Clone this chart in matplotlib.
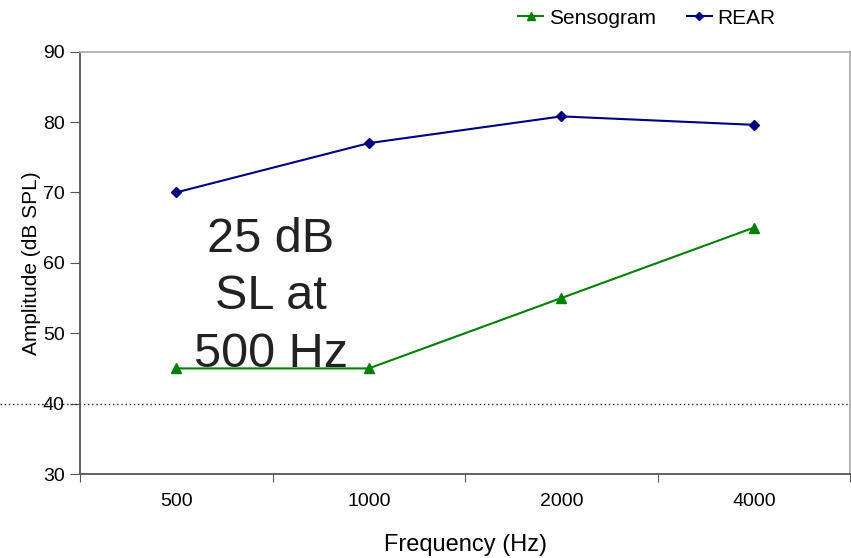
import matplotlib
matplotlib.use("Agg")
import matplotlib.pyplot as plt
import matplotlib.transforms as mtransforms

plt.rcParams['font.family'] = ['Liberation Sans', 'DejaVu Sans']

freqs = ['500', '1000', '2000', '4000']
sensogram = [45, 45, 55, 65]
rear = [70, 77, 80.8, 79.6]

fig = plt.figure(figsize=(8.51, 5.58), dpi=100)
ax = fig.add_axes([0.094, 0.1505, 0.905, 0.757])

xpos = [i + 0.5 for i in range(len(freqs))]
ax.plot(xpos, sensogram, color='#008000', marker='^', markersize=7, lw=1.5, label='Sensogram')
ax.plot(xpos, rear, color='#000080', marker='D', markersize=5, lw=1.5, label='REAR')

ax.set_xlim(0, 4)
ax.set_ylim(30, 90)
ax.set_yticks(range(30, 91, 10))
ax.set_xticks(range(0, 5))
ax.set_xticklabels([])
ax.set_xticks(xpos, minor=True)
ax.set_xticklabels(freqs, minor=True)
ax.tick_params(axis='x', which='minor', length=0, pad=14, labelsize=14)
ax.tick_params(axis='x', which='major', direction='out', length=6, color='#555555')
ax.tick_params(axis='y', direction='out', length=7, color='#555555', labelsize=14, pad=4)

for s in ['left', 'bottom']:
    ax.spines[s].set_color('#555555')
    ax.spines[s].set_linewidth(1.3)
for s in ['top', 'right']:
    ax.spines[s].set_color('#b0b0b0')
    ax.spines[s].set_linewidth(1.3)

ax.set_xlabel('Frequency (Hz)', fontsize=17, labelpad=17)
ax.set_ylabel('Amplitude (dB SPL)', fontsize=15, labelpad=1)

# dotted reference line at 40 dB across the whole figure
trans = mtransforms.blended_transform_factory(fig.transFigure, ax.transData)
ax.plot([0, 1], [40, 40], transform=trans, color='#222222', lw=1.0,
        linestyle=(0, (1, 2)), clip_on=False)

ax.text(0.99, 55.2, '25 dB\nSL at\n500 Hz', fontsize=35, ha='center', va='center',
        color='#222222', linespacing=1.36)

fig.legend(loc='upper right', bbox_to_anchor=(0.933, 1.018), ncol=2, frameon=False,
           fontsize=15, handlelength=1.2, columnspacing=1.5, handletextpad=0.25,
           markerscale=0.85)

fig.savefig('out.png', dpi=100)
